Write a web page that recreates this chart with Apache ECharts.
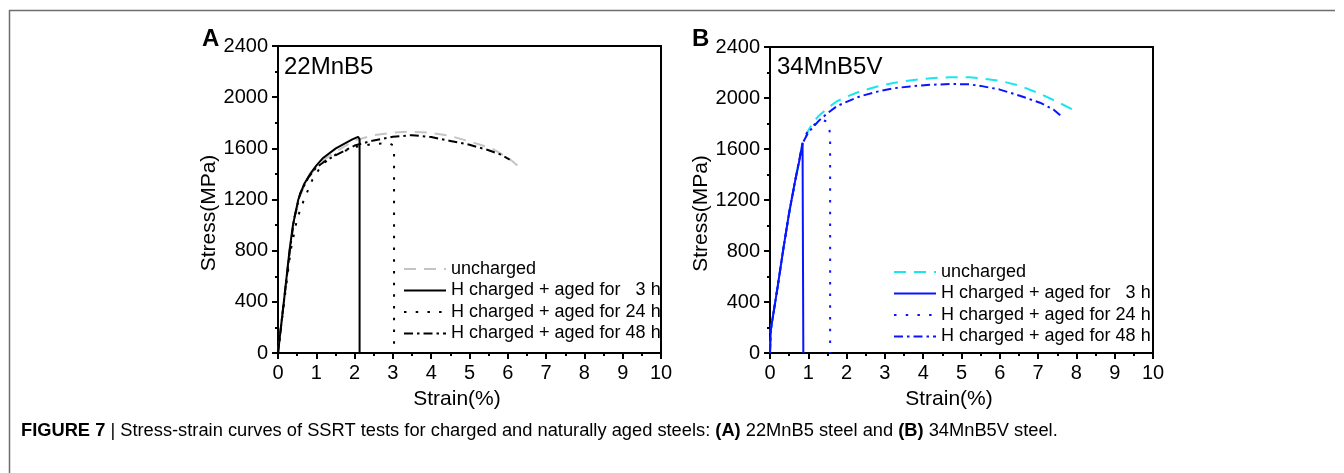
<!DOCTYPE html>
<html>
<head>
<meta charset="utf-8">
<script src="https://cdn.jsdelivr.net/npm/echarts@6/dist/echarts.min.js"></script>
<style>
  html, body { margin: 0; padding: 0; background: #fff; }
  #main { width: 1344px; height: 473px; }
</style>
</head>
<body>
<div id="main"></div>
<script>
// legend names (same for both panels)
var names = ['uncharged', 'H charged + aged for\u00a0\u00a0\u00a03 h', 'H charged + aged for 24 h', 'H charged + aged for 48 h'];

// panel A: 22MnB5, [strain %, stress MPa]
var a_uncharged = [[0,0],[0.16,420],[0.3,800],[0.4,1000],[0.55,1200],[0.7,1320],[0.85,1395],[1.0,1455],[1.2,1512],[1.6,1590],[2.0,1662],[2.5,1703],[3.0,1722],[3.42,1730],[3.94,1722],[4.46,1700],[5.07,1648],[5.6,1597],[6.03,1522],[6.25,1465]];
var a_3h = [[0,0],[0.16,420],[0.3,800],[0.39,1000],[0.53,1200],[0.68,1320],[0.85,1405],[1.0,1465],[1.16,1520],[1.51,1600],[1.94,1670],[2.09,1690],[2.13,1672],[2.13,0]];
var a_24h = [[0,0],[0.17,420],[0.33,800],[0.5,1050],[0.68,1200],[0.9,1355],[1.11,1455],[1.3,1510],[1.5,1550],[2.0,1610],[2.5,1635],[2.9,1640],[3.0,1625],[3.03,1600],[3.03,0]];
var a_48h = [[0,0],[0.16,420],[0.31,800],[0.42,1050],[0.58,1250],[0.8,1375],[1.0,1450],[1.25,1505],[1.5,1545],[2.0,1622],[2.5,1662],[3.0,1690],[3.5,1703],[4.0,1688],[4.5,1658],[5.0,1628],[5.5,1585],[5.8,1553],[6.05,1512]];

// panel B: 34MnB5V
var b_uncharged = [[0,0],[0.02,180],[0.2,520],[0.35,820],[0.5,1100],[0.65,1340],[0.85,1640],[1.0,1745],[1.13,1810],[1.26,1856],[1.5,1920],[1.74,1973],[2.0,2010],[2.35,2052],[2.8,2090],[3.22,2118],[3.7,2140],[4.2,2155],[4.7,2163],[5.2,2162],[5.5,2155],[6.0,2135],[6.5,2098],[7.0,2040],[7.5,1970],[8.02,1893]];
var b_3h = [[0,0],[0.02,180],[0.2,520],[0.35,820],[0.5,1100],[0.65,1340],[0.78,1530],[0.85,1645],[0.87,1640],[0.87,0]];
var b_24h = [[0,0],[0.02,180],[0.2,520],[0.35,820],[0.5,1100],[0.65,1340],[0.85,1645],[0.95,1720],[1.04,1765],[1.2,1800],[1.4,1825],[1.48,1815],[1.55,1760],[1.57,1700],[1.57,0]];
var b_48h = [[0,0],[0.02,180],[0.2,520],[0.35,820],[0.5,1100],[0.65,1340],[0.85,1645],[1.0,1730],[1.26,1817],[1.5,1880],[1.74,1935],[2.0,1970],[2.35,2013],[2.8,2050],[3.2,2075],[3.66,2091],[4.2,2104],[4.79,2110],[5.2,2107],[5.5,2095],[6.0,2066],[6.5,2020],[7.05,1963],[7.4,1910],[7.65,1846]];

var FONT = 'Liberation Sans, Arial, sans-serif';
var dashed = [12, 8], dotted = [2.5, 9.2], dashdot = [9, 4, 2.5, 4];

function xAx(i) {
  return {
    type: 'value', gridIndex: i, min: 0, max: 10, interval: 1,
    name: 'Strain(%)', nameLocation: 'middle', nameGap: 36,
    nameTextStyle: { fontFamily: FONT, fontSize: 21, color: '#000', padding: [0, 25, 0, 0] },
    axisLine: { show: true, onZero: false, lineStyle: { color: '#000', width: 2 } },
    axisTick: { show: true, length: 6, lineStyle: { color: '#000', width: 2 } },
    minorTick: { show: true, splitNumber: 2, length: 3, lineStyle: { color: '#000', width: 2 } },
    axisLabel: { fontFamily: FONT, fontSize: 20, color: '#000', margin: 10 },
    splitLine: { show: false }
  };
}
function yAx(i) {
  return {
    type: 'value', gridIndex: i, min: 0, max: 2400, interval: 400,
    name: 'Stress(MPa)', nameLocation: 'middle', nameGap: 49,
    nameTextStyle: { fontFamily: FONT, fontSize: 21, color: '#000', padding: [0, 27, 0, 0] },
    axisLine: { show: true, onZero: false, lineStyle: { color: '#000', width: 2 } },
    axisTick: { show: true, length: 6, lineStyle: { color: '#000', width: 2 } },
    minorTick: { show: true, splitNumber: 2, length: 3, lineStyle: { color: '#000', width: 2 } },
    axisLabel: { fontFamily: FONT, fontSize: 20, color: '#000', margin: 10, formatter: function (v) { return String(v); } },
    splitLine: { show: false }
  };
}
function line(name, data, i, color, type) {
  return {
    name: name, type: 'line', xAxisIndex: i, yAxisIndex: i, data: data,
    symbol: 'none', smooth: false, animation: false,
    lineStyle: { color: color, width: 2, type: type },
    itemStyle: { color: color }
  };
}
function legend(prefix, left, top) {
  return {
    data: names.map(function (n) { return prefix + n; }),
    formatter: function (n) { return n.slice(2); },
    orient: 'vertical', left: left, top: top, padding: 0,
    itemWidth: 42, itemHeight: 14, itemGap: 3.5,
    itemStyle: { opacity: 0 },
    textStyle: { fontFamily: FONT, fontSize: 18, color: '#000', lineHeight: 18 },
    selectedMode: false
  };
}

var myChart = echarts.init(document.getElementById('main'));
var option = {
  backgroundColor: '#fff',
  animation: false,
  grid: [
    { left: 278, top: 46, width: 383, height: 307, show: true, borderColor: '#000', borderWidth: 2 },
    { left: 770, top: 47, width: 383, height: 306, show: true, borderColor: '#000', borderWidth: 2 }
  ],
  xAxis: [xAx(0), xAx(1)],
  yAxis: [yAx(0), yAx(1)],
  legend: [legend('A|', 403, 260), legend('B|', 893, 263)],
  series: [
    line('A|' + names[0], a_uncharged, 0, '#c4c4c4', dashed),
    line('A|' + names[1], a_3h, 0, '#000', 'solid'),
    line('A|' + names[2], a_24h, 0, '#000', dotted),
    line('A|' + names[3], a_48h, 0, '#000', dashdot),
    line('B|' + names[0], b_uncharged, 1, '#18e6f2', dashed),
    line('B|' + names[1], b_3h, 1, '#0a14ff', 'solid'),
    line('B|' + names[2], b_24h, 1, '#0a14ff', dotted),
    line('B|' + names[3], b_48h, 1, '#0a14ff', dashdot)
  ],
  graphic: [
    { type: 'line', shape: { x1: 9, y1: 10.5, x2: 1335, y2: 10.5 }, style: { stroke: '#6e6e6e', lineWidth: 1.5 } },
    { type: 'line', shape: { x1: 9.5, y1: 10, x2: 9.5, y2: 473 }, style: { stroke: '#6e6e6e', lineWidth: 1.5 } },
    { type: 'text', x: 202, y: 39, style: { text: 'A', font: 'bold 24px ' + FONT, fill: '#000', verticalAlign: 'middle' } },
    { type: 'text', x: 692, y: 39, style: { text: 'B', font: 'bold 24px ' + FONT, fill: '#000', verticalAlign: 'middle' } },
    { type: 'text', x: 284, y: 67.5, style: { text: '22MnB5', font: '24px ' + FONT, fill: '#000', verticalAlign: 'middle' } },
    { type: 'text', x: 777, y: 67.5, style: { text: '34MnB5V', font: '24px ' + FONT, fill: '#000', verticalAlign: 'middle' } },
    {
      type: 'text', x: 21, y: 431,
      style: {
        text: '{b|FIGURE 7} | Stress-strain curves of SSRT tests for charged and naturally aged steels: {b|(A)} 22MnB5 steel and {b|(B)} 34MnB5V steel.',
        font: '18.3px ' + FONT, fill: '#000', verticalAlign: 'middle',
        rich: { b: { fontWeight: 'bold', fontSize: 18.3, fontFamily: FONT } }
      }
    }
  ]
};
myChart.setOption(option);
</script>
</body>
</html>
